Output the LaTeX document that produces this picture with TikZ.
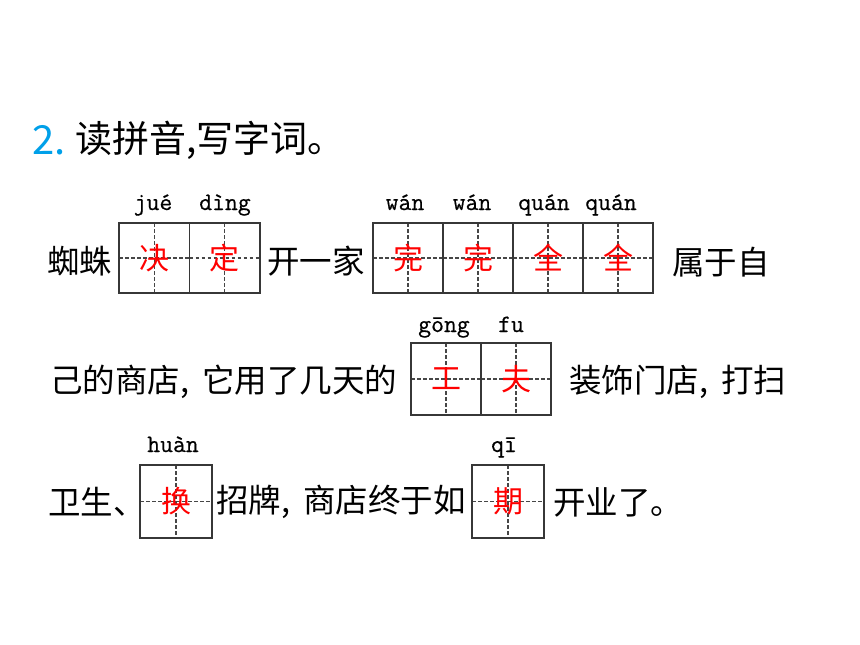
\documentclass[tikz,border=0pt]{standalone}
\usepackage{fontspec}
\setmainfont{Noto Sans CJK SC}
\setmonofont[FakeBold=0.5]{Latin Modern Mono}
\definecolor{qblue}{RGB}{0,160,233}
\definecolor{boxgray}{RGB}{55,55,55}
\definecolor{dashgray}{RGB}{70,70,70}
\definecolor{ansred}{RGB}{255,0,0}
\tikzset{
  body/.style={anchor=west, inner sep=0pt, font=\fontsize{32.5}{36}\selectfont, text=black},
  titletext/.style={anchor=west, inner sep=0pt, font=\fontsize{37}{42}\selectfont},
  py/.style={anchor=base, inner sep=0pt, font=\ttfamily\fontsize{25}{28}\selectfont},
  cell/.style={draw=boxgray, line width=1.4pt, minimum width=70pt, minimum height=70pt,
    inner sep=0pt, text=ansred, font=\fontsize{30}{33}\selectfont,
    path picture={\draw[dashgray, line width=1.1pt, dash pattern=on 3.5pt off 2.5pt]
      (path picture bounding box.north) -- (path picture bounding box.south)
      (path picture bounding box.west) -- (path picture bounding box.east);}},
}
\begin{document}
\begin{tikzpicture}[x=1pt,y=-1pt]
\useasboundingbox[fill=white] (0,0) rectangle (860,645);
% title
\node[titletext, text=qblue, font=\fontsize{40}{44}\selectfont] (num) at (32,140) {2.};
\node[titletext] (ttl) at (75,140) {读拼音,写字词。};
% row 1
\node[body] (t1) at (47,261) {蜘蛛};
\node[cell, minimum width=70.5pt] (a1) at (154.25,258) {决};
\node[cell, minimum width=70.5pt] (a2) at (224.75,258) {定};
\node[body] (t2) at (267,261) {开一家};
\node[cell] (b1) at (408,258) {完};
\node[cell] (b2) at (478,258) {完};
\node[cell] (b3) at (548,258) {全};
\node[cell] (b4) at (618,258) {全};
\node[body] (t3) at (672,262) {属于自};
\node[py] (p1) at (153,210) {jué};
\node[py] (p2) at (225,210) {dìng};
\node[py] (p3) at (405,210) {wán};
\node[py] (p4) at (472,210) {wán};
\node[py] (p5) at (544,210) {quán};
\node[py] (p6) at (611,210) {quán};
% row 2
\node[body] (t4) at (50,382) {己的商店,\hspace{0.4em}它用了几天的};
\node[cell, minimum height=72pt] (c1) at (446,379) {工};
\node[cell, minimum height=72pt] (c2) at (516,379) {夫};
\node[body] (t5) at (569,382) {装饰门店,\hspace{0.4em}打扫};
\node[py] (p7) at (444,332) {gōng};
\node[py] (p8) at (511,332) {fu};
% row 3
\node[body] (t6) at (48,502) {卫生、};
\node[cell, minimum width=72pt, minimum height=73pt] (d1) at (176,501.5) {换};
\node[body] (t7) at (216,502) {招牌,\hspace{0.4em}商店终于如};
\node[cell, minimum width=72pt, minimum height=73pt] (e1) at (508,501.5) {期};
\node[body] (t8) at (553,502) {开业了。};
\node[py] (p9) at (173,452) {huàn};
\node[py] (p10) at (504,452) {qī};
\end{tikzpicture}
\end{document}
